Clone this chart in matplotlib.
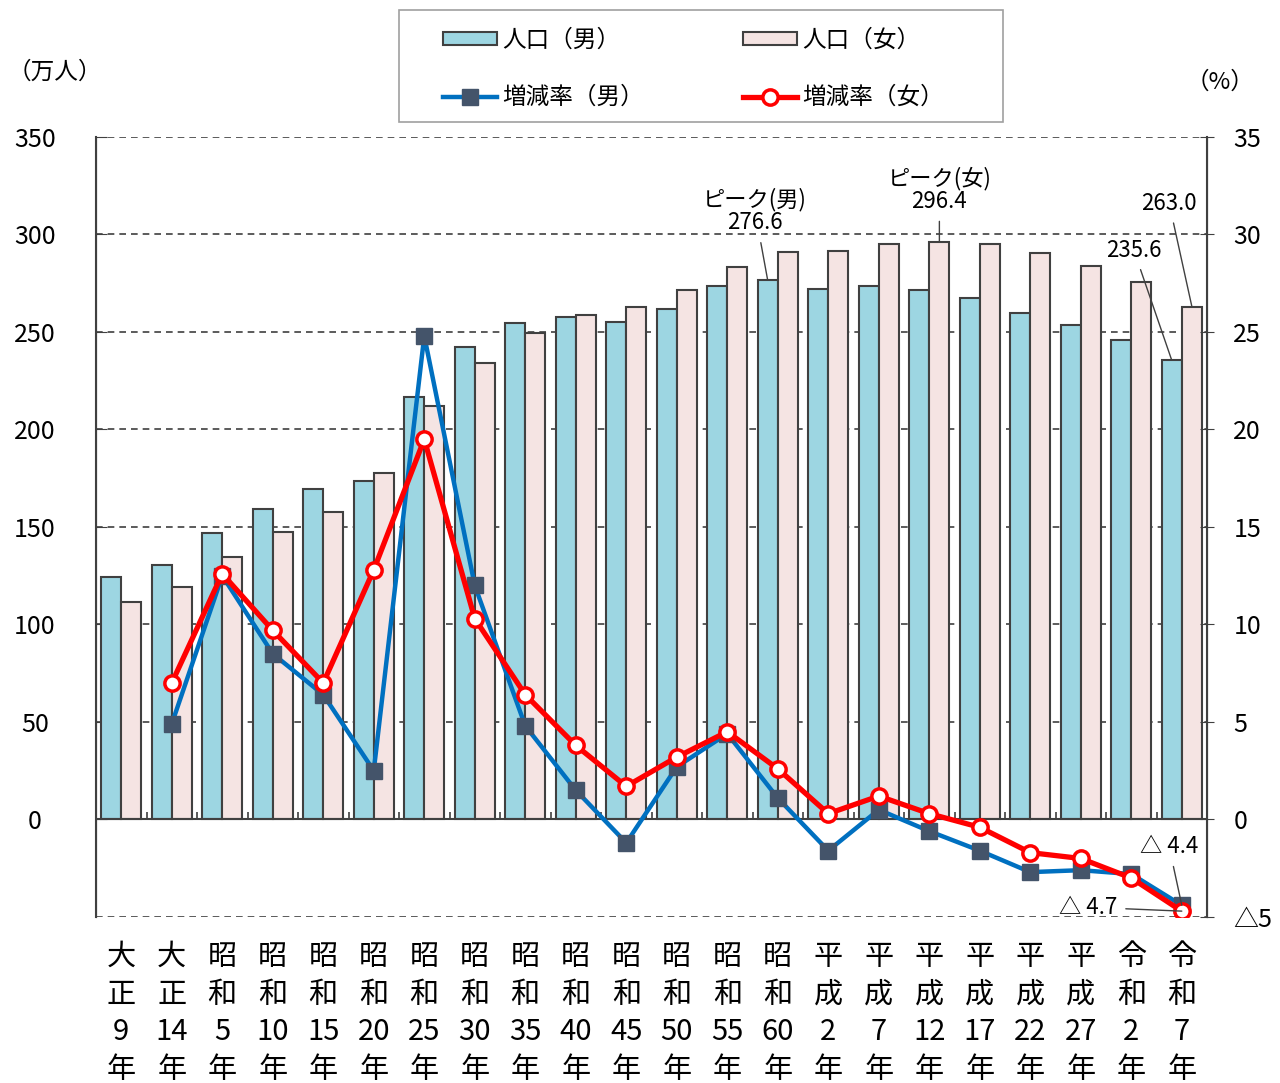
import numpy as np
import matplotlib
matplotlib.use('Agg')
import matplotlib.pyplot as plt
from matplotlib.patches import Rectangle
from matplotlib.ticker import FixedLocator

plt.rcParams['font.family'] = ['Noto Sans CJK JP', 'DejaVu Sans']

# 年次ラベル
labels = ['大\n正\n9\n年', '大\n正\n14\n年', '昭\n和\n5\n年', '昭\n和\n10\n年', '昭\n和\n15\n年',
          '昭\n和\n20\n年', '昭\n和\n25\n年', '昭\n和\n30\n年', '昭\n和\n35\n年', '昭\n和\n40\n年',
          '昭\n和\n45\n年', '昭\n和\n50\n年', '昭\n和\n55\n年', '昭\n和\n60\n年', '平\n成\n2\n年',
          '平\n成\n7\n年', '平\n成\n12\n年', '平\n成\n17\n年', '平\n成\n22\n年', '平\n成\n27\n年',
          '令\n和\n2\n年', '令\n和\n7\n年']

# 人口（万人）
pop_male = [124.1, 130.3, 146.7, 159.2, 169.6, 173.7, 216.5, 242.5, 254.4, 257.7, 255.0,
            261.9, 273.7, 276.6, 272.2, 273.7, 271.5, 267.6, 259.9, 253.8, 246.1, 235.6]
pop_female = [111.4, 119.2, 134.6, 147.4, 157.9, 177.9, 212.3, 234.3, 249.3, 258.5, 262.6,
              271.5, 283.5, 290.8, 291.5, 295.1, 296.4, 295.1, 290.3, 284.0, 275.8, 263.0]

# 増減率（%）  大正9年は無し
rate_male = [np.nan, 4.9, 12.5, 8.5, 6.4, 2.5, 24.8, 12.0, 4.8, 1.5, -1.2,
             2.7, 4.4, 1.1, -1.6, 0.5, -0.6, -1.6, -2.7, -2.6, -2.8, -4.4]
rate_female = [np.nan, 7.0, 12.6, 9.7, 7.0, 12.8, 19.5, 10.3, 6.4, 3.8, 1.7,
               3.2, 4.5, 2.6, 0.3, 1.2, 0.3, -0.4, -1.7, -2.0, -3.0, -4.7]

c_male = '#9DD6E2'
c_female = '#F5E4E3'
edge = '#404040'

x = np.arange(len(labels))

fig = plt.figure(figsize=(12.8, 10.83), dpi=100)
ax = fig.add_axes([0.075, 0.1533, 0.868, 0.7202])
ax2 = ax.twinx()

ax.set_ylim(-50, 350)
ax2.set_ylim(-5, 35)
ax.set_xlim(-0.5, len(labels) - 0.5)

# grid
for v in [-50, 50, 100, 150, 200, 250, 300, 350]:
    ax.axhline(v, color='#404040', lw=1.2, ls=(0, (4, 3)), zorder=0)

b1 = ax.bar(x - 0.2, pop_male, 0.4, color=c_male, edgecolor=edge, lw=1.5, zorder=2, label='人口（男）')
b2 = ax.bar(x + 0.2, pop_female, 0.4, color=c_female, edgecolor=edge, lw=1.5, zorder=2, label='人口（女）')
ax.axhline(0, color='#404040', lw=1.5, zorder=3)
ax.vlines(x[1:] - 0.5, 0, 4, color='#404040', lw=1.2, zorder=3)

l1, = ax2.plot(x, rate_male, color='#0070C0', lw=3.2, marker='s', ms=11,
               mfc='#44546A', mec='#44546A', label='増減率（男）', zorder=4)
l2, = ax2.plot(x, rate_female, color='#FF0000', lw=3.8, marker='o', ms=11,
               mfc='white', mec='#FF0000', mew=2.5, label='増減率（女）', zorder=5)

for s in ['top', 'bottom']:
    ax.spines[s].set_visible(False)
    ax2.spines[s].set_visible(False)
for s in ['left', 'right']:
    ax2.spines[s].set_color('#404040')
    ax2.spines[s].set_linewidth(1.5)

ax.set_xticks(x)
ax.set_xticklabels(labels, fontsize=21, linespacing=1.33, va='top')
ax.tick_params(axis='x', length=0, pad=18)

ax.yaxis.set_major_locator(FixedLocator([0, 50, 100, 150, 200, 250, 300, 350]))
ax.tick_params(axis='y', direction='in', length=8, labelsize=18, pad=44, color='#404040')
for t in ax.get_yticklabels():
    t.set_ha('center')
ax2.yaxis.set_major_locator(FixedLocator([-5, 0, 5, 10, 15, 20, 25, 30, 35]))
ax2.set_yticklabels(['△5', '0', '5', '10', '15', '20', '25', '30', '35'])
ax2.tick_params(axis='y', direction='inout', length=10, labelsize=18, pad=14, color='#404040')

fig.text(0.043, 0.933, '（万人）', fontsize=17, ha='center', va='center')
fig.text(0.953, 0.924, '（%）', fontsize=17, ha='center', va='center')

# annotations
arr = dict(arrowstyle='-', color='#404040', lw=1.0, shrinkA=4, shrinkB=0)
ax.annotate('ピーク(男)\n276.6', xy=(12.8, 276.6), xytext=(12.55, 312), ha='center', va='center',
            fontsize=16, linespacing=1.0, arrowprops=arr, zorder=6)
ax.annotate('ピーク(女)\n296.4', xy=(16.2, 296.4), xytext=(16.2, 323), ha='center', va='center',
            fontsize=16, linespacing=1.0, arrowprops=arr, zorder=6)
ax.annotate('263.0', xy=(21.2, 263.0), xytext=(20.75, 316), ha='center', va='center',
            fontsize=16, arrowprops=arr, zorder=6)
ax.annotate('235.6', xy=(20.8, 235.6), xytext=(20.05, 292), ha='center', va='center',
            fontsize=16, arrowprops=arr, zorder=6)
ax2.annotate('△ 4.4', xy=(21.0, -4.4), xytext=(20.75, -1.4), ha='center', va='center',
             fontsize=16, arrowprops=arr, zorder=6)
ax2.annotate('△ 4.7', xy=(21.0, -4.7), xytext=(19.15, -4.5), ha='center', va='center',
             fontsize=16, arrowprops=arr, zorder=6)

# legend with its own frame
fig.patches.append(Rectangle((0.3117, 0.8874), 0.4719, 0.1034, transform=fig.transFigure,
                             fill=False, edgecolor='#A0A0A0', lw=1.2))
fig.legend(handles=[b1, l1, b2, l2], ncol=2, loc='upper left',
           bbox_to_anchor=(0.346, 0.9733), fontsize=17, frameon=False,
           handlelength=2.3, handleheight=0.5, handletextpad=0.2,
           columnspacing=4.2, labelspacing=1.45, borderpad=0, borderaxespad=0)

fig.savefig('out.png', dpi=100)
